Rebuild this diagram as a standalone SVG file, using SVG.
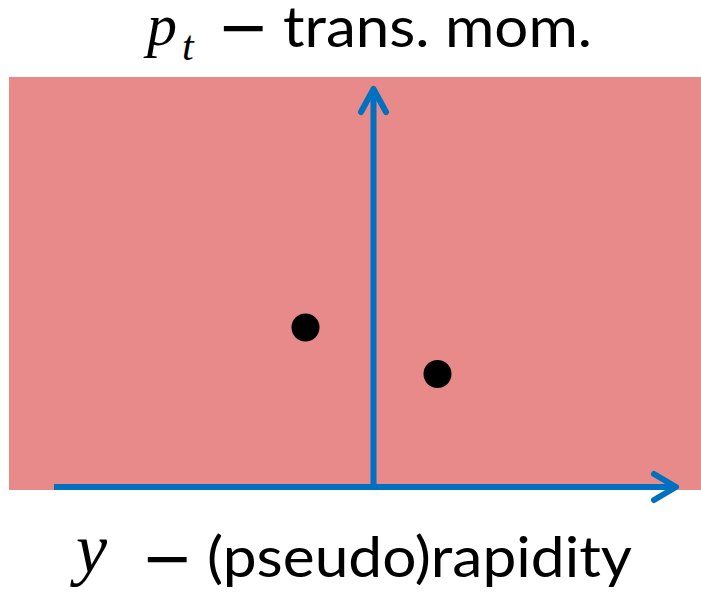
<svg xmlns="http://www.w3.org/2000/svg" width="701" height="592" viewBox="0 0 701 592">
<style>
.lbl{font-family:Lato,"Open Sans","Liberation Sans",sans-serif;font-size:57px;fill:#000}
.dash{font-family:"DejaVu Sans",sans-serif;font-size:62px;fill:#000}
.math{font-family:"Liberation Serif","DejaVu Serif",serif;font-style:italic;fill:#000}
.axis{stroke:#0070C0;stroke-width:6;fill:none;stroke-linecap:round;stroke-linejoin:round}
</style>
<rect x="0" y="0" width="701" height="592" fill="#fff"/>
<rect id="plane" x="9" y="77" width="692" height="413" fill="#E98A8A"/>
<g id="connectors">
<line class="axis" x1="54" y1="487" x2="674" y2="487" style="stroke-linecap:butt"/>
<polyline class="axis" points="654,474 676,487 654,500"/>
<line class="axis" x1="373.5" y1="490" x2="373.5" y2="91" style="stroke-linecap:butt"/>
<polyline class="axis" points="361,112 373.5,89 386,112"/>
</g>
<g id="dot1"><circle cx="305.5" cy="327.5" r="14" fill="#000"/></g>
<g id="dot2"><circle cx="437.5" cy="374" r="14" fill="#000"/></g>
<g id="title">
<text class="math" x="147" y="45" font-size="60">p</text>
<text class="math" x="182" y="60" font-size="42">t</text>
<text class="dash" x="217.4" y="47.5">−</text>
<text class="lbl" x="283" y="47" textLength="309" lengthAdjust="spacingAndGlyphs">trans. mom.</text>
</g>
<g id="xlabel">
<text class="math" x="76" y="572" font-size="70">y</text>
<text class="dash" x="141.4" y="579">−</text>
<text class="lbl" x="207" y="577" textLength="425" lengthAdjust="spacingAndGlyphs">(pseudo)rapidity</text>
</g>
</svg>
